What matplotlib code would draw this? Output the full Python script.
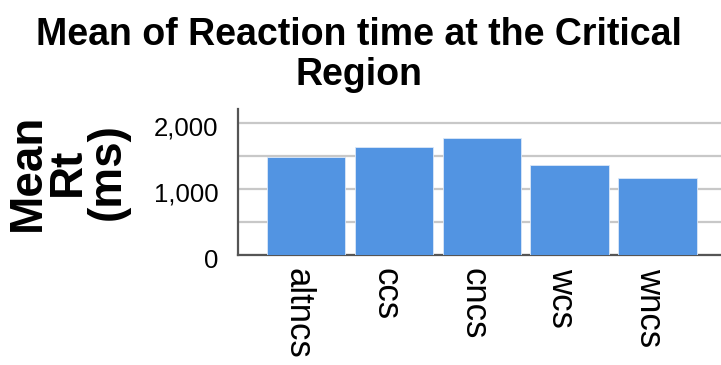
"""Bar chart: mean reaction time at the critical region per condition."""
import matplotlib
matplotlib.use("Agg")
from matplotlib import pyplot as plt
from matplotlib import transforms
from matplotlib.ticker import FixedLocator, MultipleLocator, FuncFormatter

conditions = ["altncs", "ccs", "cncs", "wcs", "wncs"]
mean_rt = [1490, 1641, 1768, 1364, 1162]
ytick_values = [0, 1000, 2000]

plt.rcParams["font.family"] = ["Liberation Sans", "DejaVu Sans"]

fig = plt.figure(figsize=(7.21, 3.65), dpi=100)
ax = fig.add_axes([0.330, 0.301, 0.670, 0.400])

ax.bar(range(len(conditions)), mean_rt, width=0.89, color="#5294e2",
       edgecolor="#dbe8f8", linewidth=0.6, zorder=3)

ax.set_xlim(-0.77, 4.72)
ax.set_ylim(0, 2212)
ax.yaxis.set_major_locator(FixedLocator(ytick_values))
ax.yaxis.set_minor_locator(MultipleLocator(500))
ax.yaxis.set_major_formatter(FuncFormatter(lambda v, p: f"{int(v):,}"))
ax.grid(axis="y", which="both", color="#c8c8c8", linewidth=1.6, zorder=0)

ax.set_xticks(range(len(conditions)))
ax.set_xticklabels(conditions, rotation=270, va="top", ha="center", fontsize=25)
ax.tick_params(axis="x", length=0, pad=9)
ax.tick_params(axis="y", which="both", length=0, pad=14, labelsize=18.5)
# nudge the vertical labels a little left of the bar centres, as in the original
shift = transforms.ScaledTranslation(-8 / 100, 0, fig.dpi_scale_trans)
for lab in ax.get_xticklabels():
    lab.set_transform(lab.get_transform() + shift)
# the zero label sits slightly below the baseline
for lab in ax.get_yticklabels():
    lab.set_transform(lab.get_transform() + transforms.ScaledTranslation(0, -3 / 100, fig.dpi_scale_trans))

for side in ["top", "right"]:
    ax.spines[side].set_visible(False)
for side in ["left", "bottom"]:
    ax.spines[side].set_color("#555555")
    ax.spines[side].set_linewidth(1.6)

fig.text(0.498, 1 - 17 / 365, "Mean of Reaction time at the Critical\nRegion",
         ha="center", va="top", fontsize=27, fontweight="bold", linespacing=1.15)
fig.text(68 / 721, 1 - 172 / 365, "Mean\nRt\n(ms)", rotation=90,
         ha="center", va="center", multialignment="center",
         fontsize=33, fontweight="bold", linespacing=0.88)

fig.savefig("out.png", dpi=100)
